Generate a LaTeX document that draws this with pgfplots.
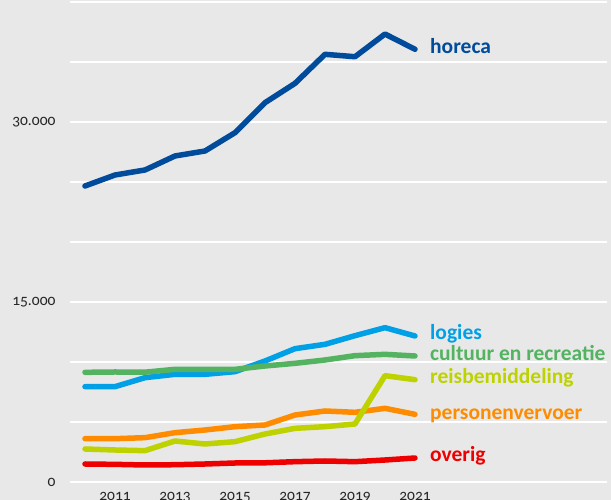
\documentclass[border=0pt]{standalone}
\usepackage{pgfplots}
\pgfplotsset{compat=1.18}
\usepackage{fontspec}
\setmainfont{Carlito}
\newfontfamily\tickfont[Numbers=OldStyle]{Carlito}

\definecolor{bgGrey}{HTML}{E8E8E8}
\definecolor{cHoreca}{HTML}{004B9B}
\definecolor{cLogies}{HTML}{00A0E6}
\definecolor{cCultuur}{HTML}{53B361}
\definecolor{cReis}{HTML}{BED200}
\definecolor{cPersonen}{HTML}{FF8C00}
\definecolor{cOverig}{HTML}{EE0000}

\begin{document}
\begin{tikzpicture}
% achtergrond over de hele pagina
\fill[bgGrey] (-70pt,-18pt) rectangle (541pt,482pt);
\useasboundingbox (-70pt,-18pt) rectangle (541pt,482pt);

\begin{axis}[
    scale only axis,
    width=537pt, height=480pt,
    at={(0pt,0pt)}, anchor=south west,
    xmin=2009.5, xmax=2027.4,
    ymin=0, ymax=40000,
    axis line style={draw=none},
    major tick length=0pt,
    xtick={2011,2013,2015,2017,2019,2021},
    xticklabels={2011,2013,2015,2017,2019,2021},
    ytick={0,5000,10000,15000,20000,25000,30000,35000,40000},
    yticklabels={0,,,15.000,,,30.000,,},
    ymajorgrids=true,
    grid style={white, line width=2pt},
    tick label style={font=\tickfont\fontsize{15.5}{15.5}\selectfont, text=black!85},
    yticklabel style={xshift=-11pt},
    xticklabel style={yshift=-7pt},
    every axis plot/.append style={line width=5.5pt, line cap=round, line join=round},
    clip=false,
]

\addplot[cPersonen] coordinates {
(2010,3611) (2011,3611) (2012,3694) (2013,4111) (2014,4333) (2015,4611)
(2016,4750) (2017,5583) (2018,5917) (2019,5806) (2020,6139) (2021,5639)};

\addplot[cReis] coordinates {
(2010,2750) (2011,2667) (2012,2611) (2013,3417) (2014,3167) (2015,3361)
(2016,4000) (2017,4472) (2018,4611) (2019,4833) (2020,8861) (2021,8528)};

\addplot[cOverig] coordinates {
(2010,1500) (2011,1470) (2012,1417) (2013,1440) (2014,1500) (2015,1583)
(2016,1600) (2017,1694) (2018,1750) (2019,1694) (2020,1833) (2021,2000)};

\addplot[cLogies] coordinates {
(2010,7944) (2011,7944) (2012,8694) (2013,8972) (2014,8972) (2015,9194)
(2016,10083) (2017,11111) (2018,11472) (2019,12194) (2020,12861) (2021,12167)};

\addplot[cCultuur] coordinates {
(2010,9139) (2011,9167) (2012,9150) (2013,9389) (2014,9389) (2015,9389)
(2016,9667) (2017,9889) (2018,10167) (2019,10528) (2020,10639) (2021,10500)};

\addplot[cHoreca] coordinates {
(2010,24667) (2011,25583) (2012,26000) (2013,27167) (2014,27583) (2015,29110)
(2016,31610) (2017,33220) (2018,35640) (2019,35440) (2020,37330) (2021,36060)};

% labels rechts van de lijnen (basislijn)
\begin{scope}[every node/.style={anchor=base west, inner sep=0pt, font=\fontsize{21.5}{21.5}\selectfont\bfseries}]
\node[text=cHoreca]    at (axis cs:2021.5,35725) {horeca};
\node[text=cLogies]    at (axis cs:2021.5,11892) {logies};
\node[text=cCultuur]   at (axis cs:2021.5,10108) {cultuur en recreatie};
\node[text=cReis]      at (axis cs:2021.5,8167)  {reisbemiddeling};
\node[text=cPersonen]  at (axis cs:2021.5,5167)  {personenvervoer};
\node[text=cOverig]    at (axis cs:2021.5,1692)  {overig};
\end{scope}

\end{axis}
\end{tikzpicture}
\end{document}
